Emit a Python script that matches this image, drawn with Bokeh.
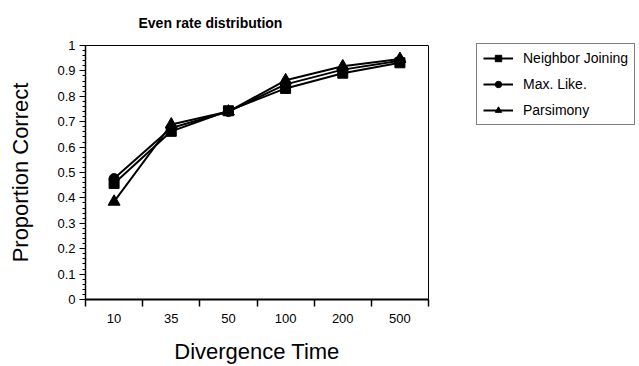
from bokeh.plotting import figure
from bokeh.models import FixedTicker, Legend, LegendItem
from bokeh.embed import file_html
from bokeh.resources import INLINE

categories = ["10", "35", "50", "100", "200", "500"]
neighbor_joining = [0.457, 0.662, 0.743, 0.831, 0.891, 0.932]
max_like = [0.476, 0.675, 0.740, 0.847, 0.905, 0.940]
parsimony = [0.385, 0.689, 0.740, 0.863, 0.918, 0.947]
y_ticks = [0, 0.1, 0.2, 0.3, 0.4, 0.5, 0.6, 0.7, 0.8, 0.9, 1]
y_tick_labels = ["0", "0.1", "0.2", "0.3", "0.4", "0.5", "0.6", "0.7", "0.8", "0.9", "1"]

FONT = "Liberation Sans"

x = [i + 0.5 for i in range(len(categories))]

p = figure(frame_width=343, frame_height=254, x_range=(0, len(categories)), y_range=(0, 1),
           output_backend="svg", toolbar_location=None,
           min_border_left=85, min_border_right=211, min_border_top=45, min_border_bottom=67,
           title="Even rate distribution")

p.title.text_font = FONT
p.title.text_font_size = "14px"
p.title.text_font_style = "bold"
p.title.text_color = "black"
p.title.align = "left"
p.title.offset = 53
p.title.standoff = 26
p.title.vertical_align = "top"

p.xgrid.visible = False
p.ygrid.visible = False
p.outline_line_color = "black"
p.outline_line_width = 1
p.outline_line_alpha = 1

# x axis
xa = p.xaxis[0]
xa.ticker = FixedTicker(ticks=x, minor_ticks=list(range(len(categories) + 1)))
xa.major_label_overrides = {xi: c for xi, c in zip(x, categories)}
xa.major_tick_out = 0
xa.major_tick_in = 0
xa.minor_tick_out = 7
xa.minor_tick_in = 0
xa.minor_tick_line_color = "black"
xa.minor_tick_line_width = 1.5
xa.axis_line_width = 2
xa.axis_line_color = "black"
xa.major_label_text_font = FONT
xa.major_label_text_font_size = "13px"
xa.major_label_text_color = "black"
xa.major_label_standoff = 7
xa.axis_label = "Divergence Time"
xa.axis_label_text_font = FONT
xa.axis_label_text_font_size = "22px"
xa.axis_label_text_font_style = "normal"
xa.axis_label_text_color = "black"
xa.axis_label_standoff = 13

# y axis
minor_y = [i / 50 for i in range(51)]
ya = p.yaxis[0]
ya.ticker = FixedTicker(ticks=y_ticks, minor_ticks=minor_y)
ya.major_label_overrides = {t: l for t, l in zip(y_ticks, y_tick_labels)}
ya.major_tick_out = 6
ya.major_tick_in = 0
ya.minor_tick_out = 3
ya.minor_tick_in = 0
ya.major_tick_line_color = "black"
ya.minor_tick_line_color = "black"
ya.axis_line_width = 1.5
ya.axis_line_color = "black"
ya.major_label_text_font = FONT
ya.major_label_text_font_size = "13px"
ya.major_label_text_color = "black"
ya.major_label_standoff = 4
ya.axis_label = "Proportion Correct"
ya.axis_label_text_font = FONT
ya.axis_label_text_font_size = "22px"
ya.axis_label_text_font_style = "normal"
ya.axis_label_text_color = "black"
ya.axis_label_standoff = 21

items = []
for name, vals, marker, size in [("Neighbor Joining", neighbor_joining, "square", 10),
                                 ("Max. Like.", max_like, "circle", 10),
                                 ("Parsimony", parsimony, "triangle", 12)]:
    l = p.line(x, vals, line_color="black", line_width=2)
    s = p.scatter(x, vals, marker=marker, size=size, fill_color="black", line_color="black")
    items.append(LegendItem(label=name, renderers=[l, s]))

legend = Legend(items=items, location=(48, 174))
legend.label_text_font = FONT
legend.label_text_font_size = "14px"
legend.label_text_color = "black"
legend.border_line_color = "black"
legend.border_line_width = 1
legend.padding = 6
legend.spacing = 10
legend.glyph_height = 16
legend.label_height = 16
legend.glyph_width = 30
legend.label_standoff = 10
legend.margin = 0
legend.background_fill_alpha = 1
p.add_layout(legend, "right")

open("out.html", "w").write(file_html(p, INLINE))
